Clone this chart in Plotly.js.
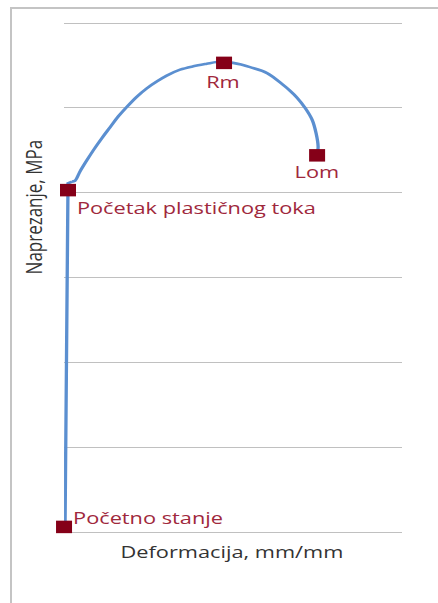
<!DOCTYPE html>
<html>
<head>
<meta charset="utf-8">
<script src="https://cdn.plot.ly/plotly-3.0.1.min.js"></script>
<style>
  html, body { margin: 0; padding: 0; background: #ffffff; overflow: hidden; }
  #chart { position: absolute; left: 0; top: 0; width: 342px; height: 603px;
           transform: scaleX(1.2807); transform-origin: 0 0; }
  #frame { position: absolute; left: 10px; top: 7px; width: 440px; height: 610px;
           border-left: 2px solid #c4c4c4; border-top: 2px solid #c4c4c4; pointer-events: none; }
</style>
</head>
<body>
<div id="chart"></div>
<div id="frame"></div>
<script>
// Stress-strain curve (strain in mm/mm, stress in MPa)
const curveStrain = [0.0012, 0.0047, 0.0095, 0.0130, 0.0189, 0.0269, 0.0347, 0.0446, 0.0544, 0.0643,
                     0.0742, 0.0860, 0.0979, 0.1097, 0.1215, 0.1373, 0.1530, 0.1688, 0.1807, 0.1893,
                     0.2000, 0.2095, 0.2201, 0.2402, 0.2592, 0.2675, 0.2757, 0.2852, 0.2935, 0.2982,
                     0.3006, 0.2994];
const curveStress = [6, 411, 413, 414, 425, 438, 450, 464, 477, 490,
                     501, 513, 523, 531, 538, 545, 549, 552, 554, 554,
                     553, 551, 548, 541, 527, 520, 512, 500, 486, 470,
                     454, 444];
// index where the elastic (straight) part ends and the plastic (curved) part begins
const elasticEnd = 2;

// Characteristic points
const pointLabels = ["Početno stanje", "Početak plastičnog toka", "Rm", "Lom"];
const pointStrain = [0.0000, 0.0047, 0.1893, 0.2994];
const pointStress = [6, 403, 553, 444];

const xTitle = "Deformacija, mm/mm";
const yTitle = "Naprezanje, MPa";

const FONT = "'Open Sans', 'Noto Sans', sans-serif";
const labelColor = "#a0283c";
const lineColor = "#5b8fd0";

// label placement (pixel offsets relative to each point)
const labelStyle = [
  { xanchor: "left",   yanchor: "middle", xshift: 4.5, yshift: 9 },
  { xanchor: "left",   yanchor: "middle", xshift: 5.2, yshift: -17 },
  { xanchor: "center", yanchor: "middle", xshift: -0.5, yshift: -19 },
  { xanchor: "center", yanchor: "middle", xshift: 0,  yshift: -16.5 }
];

const annotations = pointLabels.map((t, i) => Object.assign({
  x: pointStrain[i], y: pointStress[i], xref: "x", yref: "y",
  text: t, showarrow: false,
  font: { family: FONT, size: 17, color: labelColor }
}, labelStyle[i]));

annotations.push({
  xref: "paper", yref: "paper", x: 0.497, y: -0.034, xanchor: "center", yanchor: "middle",
  text: xTitle, showarrow: false, font: { family: FONT, size: 17, color: "#333333" }
});
annotations.push({
  xref: "paper", yref: "paper", x: -0.09, y: 0.637, xanchor: "center", yanchor: "middle",
  text: yTitle, textangle: -90, showarrow: false, font: { family: FONT, size: 17, color: "#333333" }
});

const traces = [
  {
    x: curveStrain.slice(0, elasticEnd + 1), y: curveStress.slice(0, elasticEnd + 1),
    mode: "lines", type: "scatter",
    line: { color: lineColor, width: 2.6 },
    cliponaxis: false, hoverinfo: "skip"
  },
  {
    x: curveStrain.slice(elasticEnd), y: curveStress.slice(elasticEnd),
    mode: "lines", type: "scatter",
    line: { color: lineColor, width: 2.6, shape: "spline", smoothing: 1 },
    cliponaxis: false, hoverinfo: "skip"
  },
  {
    x: pointStrain, y: pointStress, mode: "markers", type: "scatter",
    marker: { symbol: "square", size: 12.5, color: "#850018", line: { width: 0 } },
    cliponaxis: false
  }
];

const layout = {
  width: 342, height: 603,
  margin: { l: 50, r: 28, t: 21, b: 69, pad: 0 },
  paper_bgcolor: "rgba(0,0,0,0)", plot_bgcolor: "rgba(0,0,0,0)",
  showlegend: false,
  xaxis: { range: [0, 0.4], showgrid: false, zeroline: false, showline: false,
           showticklabels: false, ticks: "", fixedrange: true },
  yaxis: { range: [-2.36, 602.36], tick0: 0, dtick: 100, showgrid: true, gridcolor: "#c0c0c0", gridwidth: 1,
           zeroline: false, showline: false, showticklabels: false, ticks: "", fixedrange: true },
  annotations: annotations
};

Plotly.newPlot("chart", traces, layout, { staticPlot: true, displayModeBar: false });
</script>
</body>
</html>
